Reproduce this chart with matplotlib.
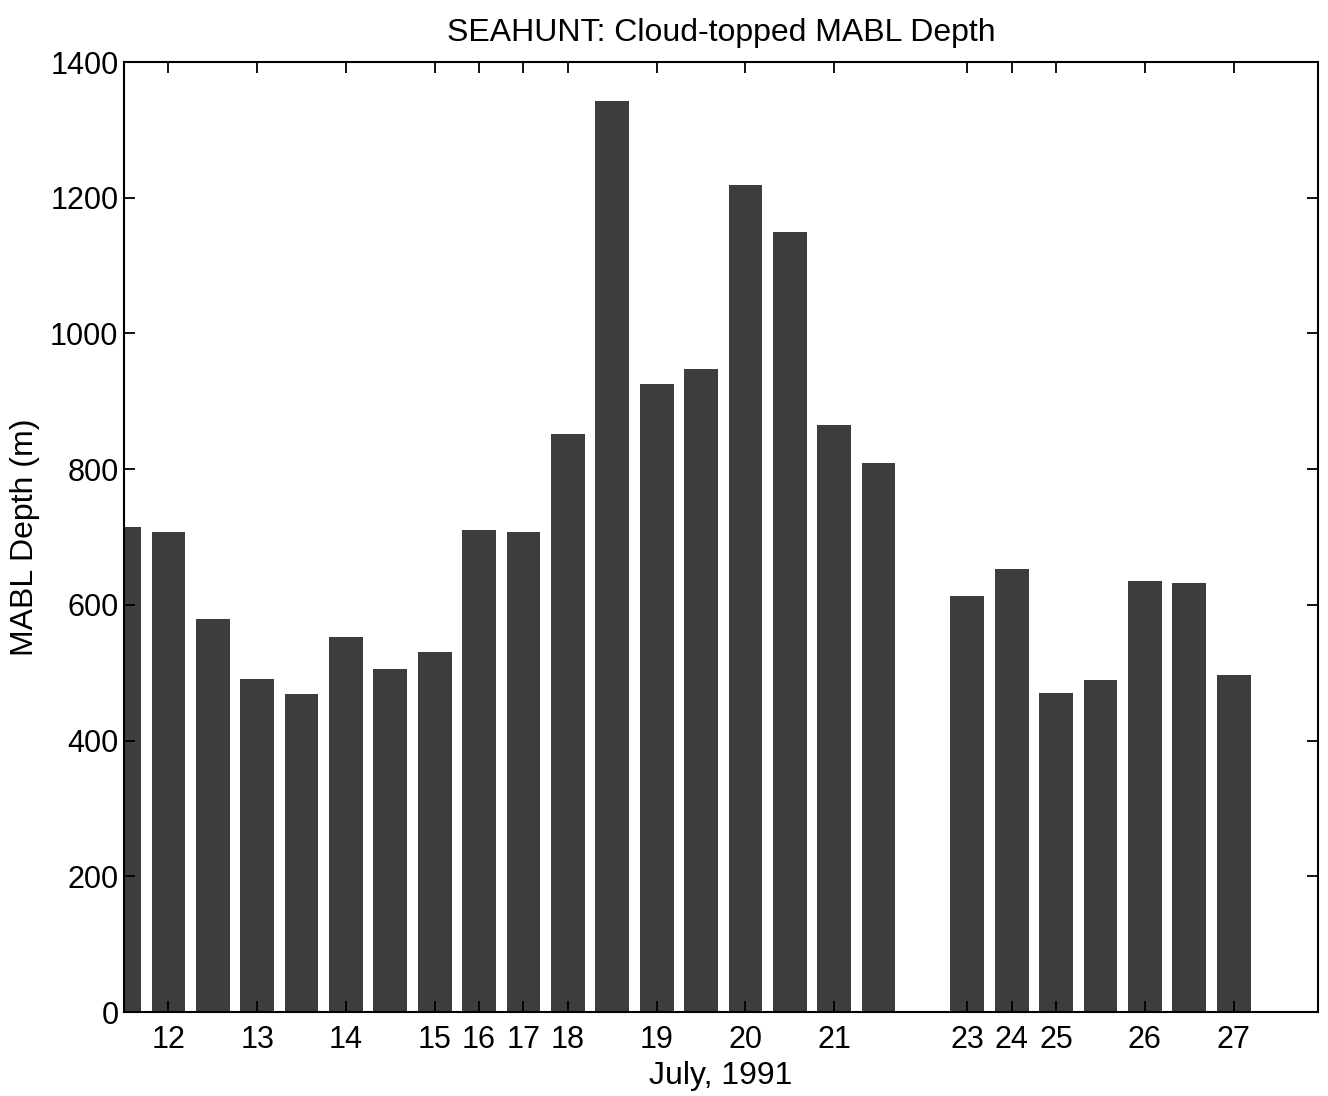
import numpy as np
import matplotlib
matplotlib.use('Agg')
import matplotlib.pyplot as plt

# 글꼴: Helvetica 대신 Liberation Sans
plt.rcParams['font.family'] = ['Liberation Sans', 'DejaVu Sans']

# 막대 값 (MABL depth, m) - 19번째 자리는 비어 있음
depth = [715, 707, 579, 491, 468, 552, 505, 530, 710, 707, 852, 1342, 925,
         948, 1219, 1149, 865, 809, np.nan, 613, 653, 470, 489, 635, 632, 496]

# 각 막대 아래의 날짜 라벨 (빈 문자열은 라벨 없음)
day_labels = ['', '12', '', '13', '', '14', '', '15', '16', '17', '18', '',
              '19', '', '20', '', '21', '', '', '23', '24', '25', '', '26',
              '', '27']

yticks = [0, 200, 400, 600, 800, 1000, 1200, 1400]

fig = plt.figure(figsize=(13.28, 10.96), dpi=100)
ax = fig.add_axes([124 / 1328, 1 - 1012 / 1096, (1318 - 124) / 1328, (1012 - 62) / 1096])

x = np.arange(1, len(depth) + 1)
ax.bar(x, depth, width=0.76, color='#3d3d3d', edgecolor='none')

tick_pos = [p for p, lab in zip(x, day_labels) if lab]
tick_lab = [lab for lab in day_labels if lab]
ax.set_xticks(tick_pos)
ax.set_xticklabels(tick_lab)
ax.set_yticks(yticks)

ax.set_xlim(1, 27.9)
ax.set_ylim(0, 1400)

ax.tick_params(direction='in', top=True, right=True, length=8, width=1.3,
               labelsize=22)
ax.tick_params(axis='x', pad=9)
ax.tick_params(axis='y', pad=4)
for s in ax.spines.values():
    s.set_linewidth(1.5)

ax.set_title('SEAHUNT: Cloud-topped MABL Depth', fontsize=23, pad=15)
ax.set_xlabel('July, 1991', fontsize=23, labelpad=5)
ax.set_ylabel('MABL Depth (m)', fontsize=23, labelpad=7)

fig.savefig('out.png', dpi=100)
